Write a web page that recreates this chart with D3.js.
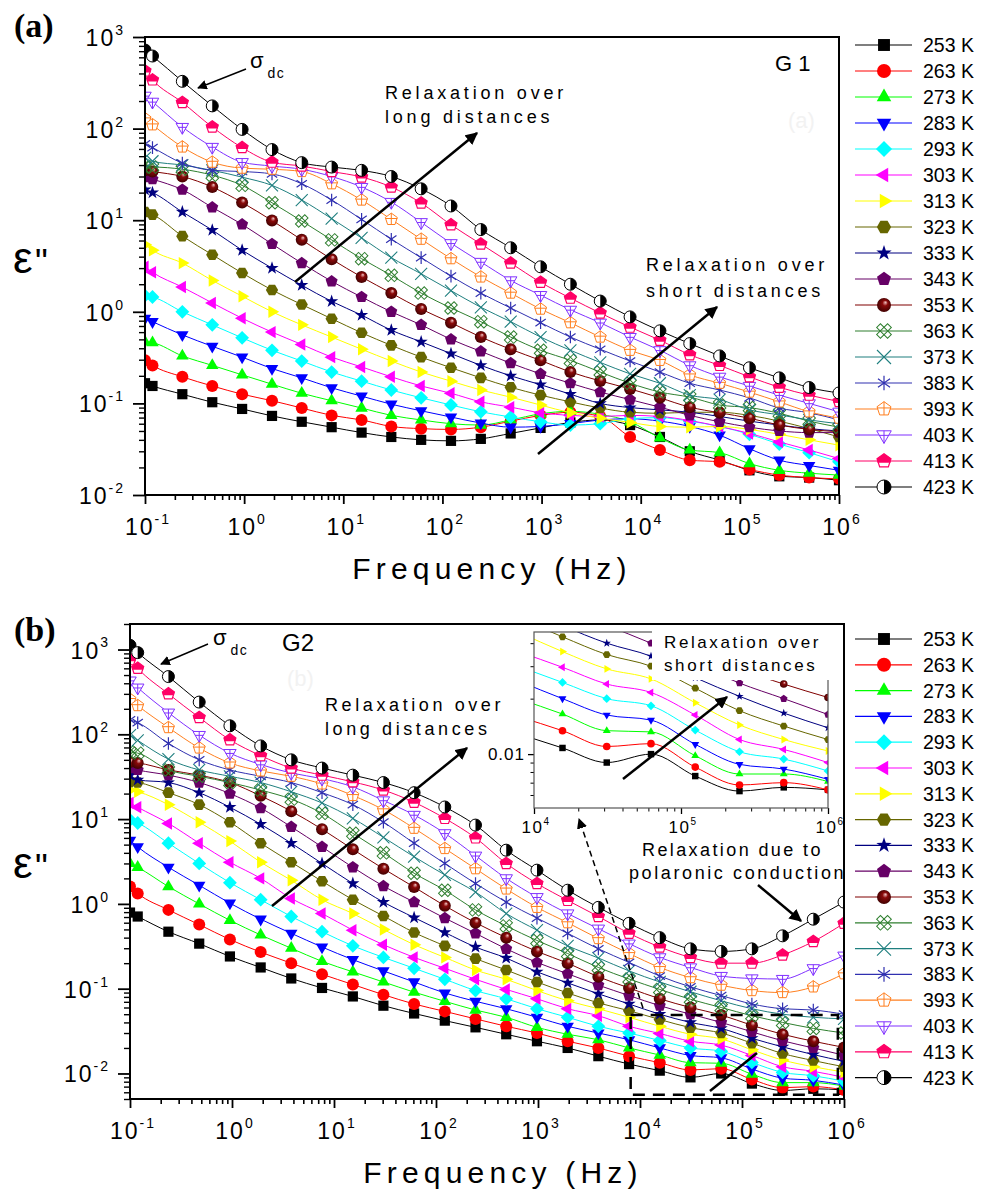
<!DOCTYPE html>
<html><head><meta charset="utf-8">
<script src="https://cdn.jsdelivr.net/npm/d3@7"></script>
<style>
body{margin:0;background:#fff;}
svg text{font-family:"Liberation Sans",Arial,sans-serif;fill:#000;}
</style></head><body>
<svg id="fig" width="989" height="1192"></svg>
<script>
// Measurement frequencies (Hz)
const freqs = [0.1, 0.119, 0.238, 0.477, 0.954, 1.91, 3.81, 7.63, 15.3, 30.5, 61.0, 122, 244, 488, 977, 1953, 3906, 7813, 15625, 31250, 62500, 125000, 250000, 500000, 1000000];
const temps = ["253 K","263 K","273 K","283 K","293 K","303 K","313 K","323 K","333 K","343 K","353 K","363 K","373 K","383 K","393 K","403 K","413 K","423 K"];

// G1: dielectric loss ε'' per temperature
const g1_253 = [0.166,0.155,0.126,0.103,0.087,0.073,0.063,0.055,0.048,0.043,0.040,0.039,0.041,0.047,0.054,0.062,0.066,0.058,0.043,0.030,0.024,0.0186,0.016,0.0155,0.0145];
const g1_263 = [0.295,0.26,0.195,0.155,0.126,0.107,0.089,0.074,0.066,0.056,0.053,0.052,0.055,0.064,0.074,0.080,0.072,0.043,0.031,0.024,0.023,0.019,0.0165,0.0155,0.015];
const g1_273 = [0.47,0.46,0.33,0.26,0.205,0.162,0.129,0.107,0.089,0.074,0.066,0.060,0.058,0.066,0.077,0.082,0.076,0.063,0.042,0.031,0.029,0.022,0.0186,0.0173,0.0165];
const g1_283 = [0.85,0.78,0.56,0.42,0.32,0.24,0.19,0.148,0.12,0.098,0.083,0.071,0.061,0.055,0.056,0.060,0.066,0.068,0.064,0.056,0.045,0.032,0.024,0.021,0.0186];
const g1_293 = [1.5,1.45,1.0,0.72,0.52,0.38,0.29,0.22,0.175,0.14,0.115,0.096,0.081,0.071,0.063,0.058,0.060,0.068,0.070,0.064,0.056,0.046,0.036,0.029,0.023];
const g1_303 = [3.1,2.7,1.86,1.25,0.85,0.60,0.44,0.32,0.25,0.195,0.155,0.129,0.104,0.091,0.079,0.074,0.072,0.074,0.072,0.065,0.056,0.047,0.038,0.031,0.025];
const g1_313 = [5.4,4.7,3.4,2.2,1.48,1.0,0.72,0.53,0.39,0.29,0.22,0.175,0.14,0.117,0.096,0.079,0.069,0.062,0.056,0.055,0.056,0.052,0.046,0.040,0.035];
const g1_323 = [12.3,11.5,6.7,4.2,2.65,1.73,1.2,0.84,0.59,0.43,0.32,0.245,0.19,0.15,0.123,0.104,0.089,0.080,0.078,0.080,0.080,0.074,0.064,0.053,0.043];
const g1_333 = [21.5,20,12.3,7.8,4.7,3.0,1.95,1.3,0.92,0.63,0.47,0.35,0.26,0.20,0.16,0.126,0.10,0.090,0.085,0.080,0.072,0.064,0.058,0.053,0.050];
const g1_343 = [29.5,28,21.5,13.8,9.0,5.5,3.4,2.15,1.45,1.0,0.72,0.50,0.37,0.275,0.21,0.166,0.133,0.11,0.091,0.074,0.063,0.055,0.050,0.048,0.048];
const g1_353 = [35,34,30,23,15.6,9.9,6.1,3.75,2.4,1.6,1.07,0.76,0.53,0.39,0.295,0.22,0.176,0.144,0.115,0.091,0.079,0.069,0.058,0.052,0.049];
const g1_363 = [38,38,36,31,24,15.5,9.8,6.1,3.8,2.5,1.6,1.1,0.78,0.53,0.38,0.295,0.22,0.166,0.133,0.117,0.096,0.090,0.078,0.064,0.055];
const g1_373 = [48,44,40,35,29.5,24,16.6,10.4,6.4,3.9,2.6,1.7,1.12,0.78,0.53,0.38,0.28,0.21,0.166,0.123,0.11,0.085,0.075,0.066,0.060];
const g1_383 = [68,62,42,35,34,32,25,16.6,10.2,6.2,3.9,2.45,1.6,1.1,0.76,0.53,0.39,0.29,0.22,0.166,0.14,0.115,0.089,0.079,0.066];
const g1_393 = [128,110,63,43,37,36,34,25,16.6,10.2,6.2,3.8,2.4,1.6,1.07,0.76,0.53,0.38,0.295,0.205,0.166,0.133,0.104,0.081,0.069];
const g1_403 = [228,196,104,63,43,39,36,30,23,15.8,9.5,5.6,3.5,2.2,1.52,1.05,0.76,0.53,0.38,0.26,0.195,0.155,0.123,0.10,0.081];
const g1_413 = [425,340,193,104,62,43,39,34,29.6,23,15.4,8.9,5.5,3.4,2.1,1.41,0.97,0.68,0.49,0.34,0.26,0.195,0.15,0.123,0.105];
const g1_423 = [720,620,328,177,98,59,42.5,38,35,30,22,14.3,7.9,5.0,3.1,2.0,1.31,0.88,0.62,0.45,0.33,0.245,0.19,0.149,0.13];

// G2: dielectric loss ε'' per temperature
const g2_253 = [0.79,0.71,0.47,0.34,0.24,0.178,0.132,0.102,0.081,0.063,0.051,0.042,0.035,0.029,0.024,0.020,0.016,0.0129,0.0108,0.0090,0.0100,0.0076,0.0063,0.0066,0.0064];
const g2_263 = [1.6,1.33,0.85,0.57,0.38,0.27,0.20,0.148,0.112,0.085,0.066,0.054,0.044,0.036,0.030,0.024,0.020,0.016,0.0134,0.0110,0.0114,0.0085,0.0068,0.0070,0.0064];
const g2_273 = [3.0,2.7,1.6,1.0,0.64,0.43,0.30,0.21,0.158,0.12,0.091,0.071,0.056,0.046,0.035,0.029,0.025,0.020,0.0165,0.0134,0.0132,0.0098,0.0078,0.0078,0.0071];
const g2_283 = [5.6,4.7,2.7,1.66,1.02,0.66,0.45,0.31,0.22,0.162,0.12,0.089,0.071,0.058,0.046,0.036,0.030,0.025,0.020,0.0163,0.0153,0.0113,0.0088,0.0083,0.0073];
const g2_293 = [9.8,9.0,5.2,3.0,1.78,1.12,0.71,0.47,0.32,0.234,0.174,0.129,0.095,0.076,0.058,0.046,0.036,0.030,0.0245,0.020,0.0183,0.0135,0.0103,0.0094,0.0081];
const g2_303 = [15.5,13.8,8.9,5.2,3.1,2.0,1.16,0.77,0.49,0.33,0.234,0.174,0.129,0.098,0.076,0.058,0.048,0.036,0.0296,0.024,0.0216,0.0163,0.0120,0.0106,0.0090];
const g2_313 = [22,21,14.8,9.2,5.5,3.1,1.9,1.12,0.77,0.50,0.33,0.234,0.166,0.129,0.095,0.072,0.058,0.046,0.036,0.029,0.0256,0.019,0.0144,0.0120,0.0104];
const g2_323 = [27.5,27,20.5,14.8,9.2,5.2,3.1,1.85,1.12,0.72,0.46,0.32,0.226,0.166,0.12,0.089,0.068,0.055,0.0433,0.0347,0.030,0.0228,0.0172,0.0142,0.0120];
const g2_333 = [33,29,27,20.5,13.8,8.7,5.2,3.0,1.74,1.05,0.69,0.46,0.31,0.23,0.158,0.117,0.087,0.066,0.050,0.040,0.034,0.026,0.0206,0.0167,0.0139];
const g2_343 = [40,38,33,27,20,13.5,8.1,4.7,2.7,1.62,1.05,0.68,0.45,0.295,0.204,0.15,0.11,0.083,0.063,0.050,0.040,0.031,0.0243,0.020,0.0164];
const g2_353 = [47,46,38,33,27,18.8,12.4,7.6,4.4,2.6,1.58,0.95,0.60,0.40,0.275,0.20,0.138,0.102,0.076,0.060,0.049,0.037,0.029,0.024,0.0203];
const g2_363 = [62,60,38,32,27,22,17.2,11.7,6.8,4.0,2.3,1.45,0.85,0.55,0.37,0.26,0.178,0.13,0.098,0.075,0.060,0.048,0.040,0.034,0.030];
const g2_373 = [98,85,51,38,32,27,21,15.5,10.2,6.1,3.6,2.2,1.38,0.77,0.49,0.32,0.23,0.162,0.12,0.092,0.072,0.058,0.050,0.046,0.044];
const g2_383 = [148,137,78,50,38,32,27,20.5,14.8,9.2,5.2,3.0,1.74,1.05,0.68,0.45,0.295,0.204,0.141,0.105,0.083,0.066,0.058,0.056,0.050];
const g2_393 = [258,218,120,69,46,37,32,26,19,12.9,7.8,4.5,2.6,1.5,0.91,0.60,0.39,0.26,0.178,0.135,0.11,0.095,0.090,0.105,0.15];
const g2_403 = [430,355,180,98,60,44,35,30,24,16.6,11.2,6.8,3.7,2.0,1.2,0.77,0.51,0.34,0.234,0.178,0.141,0.132,0.13,0.174,0.245];
const g2_413 = [760,600,300,158,86,56,40,33,27.5,22,15.8,10.2,6.0,3.0,1.74,1.1,0.71,0.45,0.31,0.234,0.20,0.20,0.25,0.36,0.59];
const g2_423 = [1120,920,480,240,126,73,50,40,33,27,20.5,13.9,8.5,4.3,2.5,1.45,0.91,0.59,0.40,0.295,0.275,0.295,0.42,0.66,1.05];

const g1Series = [g1_253,g1_263,g1_273,g1_283,g1_293,g1_303,g1_313,g1_323,g1_333,g1_343,g1_353,g1_363,g1_373,g1_383,g1_393,g1_403,g1_413,g1_423];
const g2Series = [g2_253,g2_263,g2_273,g2_283,g2_293,g2_303,g2_313,g2_323,g2_333,g2_343,g2_353,g2_363,g2_373,g2_383,g2_393,g2_403,g2_413,g2_423];

// Axis tick decades
const xDecades = [0.1,1,10,100,1e3,1e4,1e5,1e6];
const xExps = ["-1","0","1","2","3","4","5","6"];
const yDecades = [0.01,0.1,1,10,100,1000];
const yExps = ["-2","-1","0","1","2","3"];
const insetXDecades = [1e4,1e5,1e6];
const insetXExps = ["4","5","6"];

// symbol + colour for each temperature
const styles = [
  {shape:"square",color:"#000000"},
  {shape:"circle",color:"#ff0000"},
  {shape:"up",color:"#00ff00"},
  {shape:"down",color:"#0000ff"},
  {shape:"diamond",color:"#00ffff"},
  {shape:"left",color:"#ff00ff"},
  {shape:"right",color:"#ffff00"},
  {shape:"hex",color:"#666600"},
  {shape:"star",color:"#000080"},
  {shape:"pent",color:"#660066"},
  {shape:"sphere",color:"#800000"},
  {shape:"xx",color:"#2f7f2f"},
  {shape:"x",color:"#1f7f7f"},
  {shape:"ast",color:"#3030b0"},
  {shape:"pentcross",color:"#ff7f1f"},
  {shape:"tricross",color:"#8030ff"},
  {shape:"penthalf",color:"#ff0066"},
  {shape:"halfcirc",color:"#000000"}
];

const svg = d3.select("#fig");
const defs = svg.append("defs");
const grad = defs.append("radialGradient").attr("id","sphereGrad")
  .attr("cx","50%").attr("cy","50%").attr("r","55%").attr("fx","62%").attr("fy","30%");
grad.append("stop").attr("offset","0%").attr("stop-color","#f4c8c8");
grad.append("stop").attr("offset","35%").attr("stop-color","#8a0a0a");
grad.append("stop").attr("offset","100%").attr("stop-color","#3a0000");

function addHead(id, w){
  defs.append("marker").attr("id",id).attr("viewBox","0 0 10 10").attr("refX",9).attr("refY",5)
    .attr("markerWidth",w).attr("markerHeight",w).attr("orient","auto")
    .append("path").attr("d","M0,0L10,5L0,10Z").attr("fill","#000");
}
addHead("headBig",5);
addHead("headSmall",7);

const P = pts => "M" + pts.map(p => p[0].toFixed(2)+","+p[1].toFixed(2)).join("L") + "Z";
const reg = (n, rad, a0) => d3.range(n).map(i => [rad*Math.cos(a0+i*2*Math.PI/n), rad*Math.sin(a0+i*2*Math.PI/n)]);

function marker(g, st, r){
  const c = st.color;
  switch(st.shape){
    case "square": g.append("rect").attr("x",-r*0.85).attr("y",-r*0.85).attr("width",r*1.7).attr("height",r*1.7).attr("fill",c); break;
    case "circle": g.append("circle").attr("r",r).attr("fill",c); break;
    case "up": g.append("path").attr("d",P(reg(3,r*1.2,-Math.PI/2))).attr("fill",c); break;
    case "down": g.append("path").attr("d",P(reg(3,r*1.2,Math.PI/2))).attr("fill",c); break;
    case "left": g.append("path").attr("d",P(reg(3,r*1.2,Math.PI))).attr("fill",c); break;
    case "right": g.append("path").attr("d",P(reg(3,r*1.2,0))).attr("fill",c); break;
    case "diamond": g.append("path").attr("d",P([[0,-r*1.15],[r*1.15,0],[0,r*1.15],[-r*1.15,0]])).attr("fill",c); break;
    case "hex": g.append("path").attr("d",P(reg(6,r*1.02,0))).attr("fill",c); break;
    case "star": {
      const pts = d3.range(10).map(i => { const rr = i%2 ? r*0.45 : r*1.15; const a = -Math.PI/2 + i*Math.PI/5; return [rr*Math.cos(a), rr*Math.sin(a)]; });
      g.append("path").attr("d",P(pts)).attr("fill",c); break;
    }
    case "pent": g.append("path").attr("d",P(reg(5,r*1.05,-Math.PI/2))).attr("fill",c); break;
    case "sphere": g.append("circle").attr("r",r).attr("fill","url(#sphereGrad)"); break;
    case "xx": {
      [45,-45].forEach(a => g.append("rect").attr("x",-r*1.1).attr("y",-r*0.38).attr("width",r*2.2).attr("height",r*0.76)
        .attr("transform",`rotate(${a})`).attr("fill","none").attr("stroke",c).attr("stroke-width",1));
      break;
    }
    case "x": {
      g.append("path").attr("d",`M${-r},${-r}L${r},${r}M${-r},${r}L${r},${-r}`).attr("stroke",c).attr("stroke-width",1.1).attr("fill","none"); break;
    }
    case "ast": {
      const d = [90,35,145].map(a => { const dx = r*1.05*Math.cos(a*Math.PI/180), dy = r*1.05*Math.sin(a*Math.PI/180); return `M${-dx},${-dy}L${dx},${dy}`; }).join("");
      g.append("path").attr("d",d).attr("stroke",c).attr("stroke-width",1.2).attr("fill","none"); break;
    }
    case "pentcross": {
      const pts = reg(5,r*1.05,-Math.PI/2);
      g.append("path").attr("d",P(pts)).attr("fill","#fff").attr("stroke",c).attr("stroke-width",1);
      g.append("path").attr("d",`M0,${-r*1.05}L0,${r*0.85}M${-r*1.0},${-r*0.15}L${r*1.0},${-r*0.15}`).attr("stroke",c).attr("stroke-width",1);
      break;
    }
    case "tricross": {
      const pts = reg(3,r*1.2,Math.PI/2);
      g.append("path").attr("d",P(pts)).attr("fill","#fff").attr("stroke",c).attr("stroke-width",1);
      g.append("path").attr("d",`M0,${-r*0.6}L0,${r*1.2}M${-r*0.7},${r*0.05}L${r*0.7},${r*0.05}`).attr("stroke",c).attr("stroke-width",1);
      break;
    }
    case "penthalf": {
      const pts = reg(5,r*1.05,-Math.PI/2);
      g.append("path").attr("d",P(pts)).attr("fill","#fff").attr("stroke",c).attr("stroke-width",1.2);
      const cut = r*0.25;
      g.append("path").attr("d",P([[pts[4][0],pts[4][1]],[pts[0][0],pts[0][1]],[pts[1][0],pts[1][1]],[r*0.92,cut],[-r*0.92,cut]])).attr("fill",c);
      break;
    }
    case "halfcirc": {
      g.append("circle").attr("r",r).attr("fill","#fff").attr("stroke",c).attr("stroke-width",1);
      g.append("path").attr("d",`M0,${-r}A${r},${r} 0 0 1 0,${r}Z`).attr("fill",c);
      break;
    }
  }
}

function powLabel(x, y, exp, anchor, fs, sfs, ls){
  const t = svg.append("text").attr("x",x).attr("y",y).attr("text-anchor",anchor)
    .attr("font-size",fs).attr("letter-spacing",ls);
  t.append("tspan").text("10");
  t.append("tspan").attr("dy",-fs*0.48).attr("font-size",sfs).text(exp);
  return t;
}

function minorTicks(lo, hi){
  const out = [];
  for (let e = Math.floor(Math.log10(lo)) - 1; e <= Math.ceil(Math.log10(hi)); e++)
    for (let m = 2; m <= 9; m++){ const v = m*Math.pow(10,e); if (v >= lo*0.999 && v <= hi*1.001) out.push(v); }
  return out;
}

function styleAxis(sel, w){
  sel.select(".domain").remove();
  sel.selectAll("line").attr("stroke","#000").attr("stroke-width",w);
}

function drawPanel(cfg, seriesVals){
  const x = d3.scaleLog().domain([0.1,1e6]).range([cfg.x0,cfg.x1]);
  const y = d3.scaleLog().domain(cfg.yDom).range([cfg.yBot,cfg.yTop]);
  defs.append("clipPath").attr("id","clip"+cfg.id).append("rect")
    .attr("x",cfg.x0).attr("y",cfg.yTop).attr("width",cfg.x1-cfg.x0).attr("height",cfg.yBot-cfg.yTop);
  const plot = svg.append("g").attr("clip-path",`url(#clip${cfg.id})`);
  const line = d3.line().x(d => x(d.f)).y(d => y(d.v)).curve(d3.curveMonotoneX);
  seriesVals.forEach((vals,k) => {
    const st = styles[k];
    const pts = freqs.map((f,i) => ({f, v: vals[i]}));
    const sg = plot.append("g");
    sg.append("path").attr("d",line(pts)).attr("fill","none").attr("stroke",st.color).attr("stroke-width",1);
    pts.forEach(p => marker(sg.append("g").attr("transform",`translate(${x(p.f)},${y(p.v)})`), st, 6));
  });

  // axes
  const ax = svg.append("g");
  ax.append("g").attr("transform",`translate(0,${cfg.yBot})`)
    .call(d3.axisBottom(x).tickValues(xDecades).tickSizeInner(9).tickSizeOuter(0).tickFormat(() => ""))
    .call(s => styleAxis(s,1.8));
  ax.append("g").attr("transform",`translate(0,${cfg.yBot})`)
    .call(d3.axisBottom(x).tickValues(minorTicks(0.1,1e6)).tickSizeInner(5).tickSizeOuter(0).tickFormat(() => ""))
    .call(s => styleAxis(s,1.6));
  ax.append("g").attr("transform",`translate(${cfg.x0},0)`)
    .call(d3.axisLeft(y).tickValues(yDecades).tickSizeInner(12).tickSizeOuter(0).tickFormat(() => ""))
    .call(s => styleAxis(s,1.8));
  ax.append("g").attr("transform",`translate(${cfg.x0},0)`)
    .call(d3.axisLeft(y).tickValues(minorTicks(cfg.yDom[0],cfg.yDom[1])).tickSizeInner(6).tickSizeOuter(0).tickFormat(() => ""))
    .call(s => styleAxis(s,1.4));
  svg.append("rect").attr("x",cfg.x0).attr("y",cfg.yTop).attr("width",cfg.x1-cfg.x0).attr("height",cfg.yBot-cfg.yTop)
    .attr("fill","none").attr("stroke","#000").attr("stroke-width",2);

  xDecades.forEach((v,i) => powLabel(x(v)+3, cfg.yBot+40, xExps[i], "middle", 23, 14, 2));
  yDecades.forEach((v,i) => powLabel(cfg.x0-20, y(v)+9, yExps[i], "end", 23, 14, 2));

  svg.append("text").attr("x",cfg.titleX).attr("y",cfg.yBot+84).attr("text-anchor","middle")
    .attr("font-size",30).attr("letter-spacing",5.2).text("Frequency (Hz)");
  svg.append("text").attr("x",13).attr("y",cfg.epsY).attr("font-size",44).text("ε");
  svg.append("text").attr("x",35).attr("y",cfg.epsY+2).attr("font-size",36).text("\"");
  svg.append("text").attr("x",14).attr("y",cfg.labelY).attr("font-size",34).attr("font-weight","bold")
    .style("font-family","'Liberation Serif','Times New Roman',serif").text(cfg.label);

  // legend
  temps.forEach((t,k) => {
    const cy = cfg.ly0 + k*cfg.ldy;
    svg.append("line").attr("x1",855).attr("x2",912).attr("y1",cy).attr("y2",cy).attr("stroke",styles[k].color).attr("stroke-width",1.2);
    marker(svg.append("g").attr("transform",`translate(884,${cy})`), styles[k], 7);
    svg.append("text").attr("x",923).attr("y",cy+7).attr("font-size",19.5).text(t);
  });
  return {x, y};
}

function sigma(x, y){
  const t = svg.append("text").attr("x",x).attr("y",y).attr("font-size",22);
  t.append("tspan").text("σ");
  t.append("tspan").attr("dx",4).attr("dy",10).attr("font-size",14).attr("letter-spacing",1.5).text("dc");
}
function arrow(x1,y1,x2,y2,w,head,dash){
  const l = svg.append("line").attr("x1",x1).attr("y1",y1).attr("x2",x2).attr("y2",y2)
    .attr("stroke","#000").attr("stroke-width",w);
  if (head) l.attr("marker-end",`url(#${head})`);
  if (dash) l.attr("stroke-dasharray",dash);
}
function textLine(x, y, s, fs, ls){
  svg.append("text").attr("x",x).attr("y",y).attr("font-size",fs).attr("letter-spacing",ls).text(s);
}

// ---- panel (a): G1 ----
drawPanel({id:"A", x0:145, x1:839, yTop:37, yBot:495, yDom:[0.01,1000], titleX:492, epsY:273, labelY:37, label:"(a)", ly0:45, ldy:26}, g1Series);
svg.append("text").attr("x",788).attr("y",128).attr("font-size",22).style("fill","#f2f2f2").text("(a)");
svg.append("text").attr("x",775).attr("y",71).attr("font-size",22).text("G 1");
sigma(250, 68);
arrow(246,69,198,88,1.4,"headSmall");
textLine(385, 99, "Relaxation over", 18, 3.8);
textLine(385, 123, "long distances", 18, 3.8);
arrow(295,282,477,133,2.5,"headBig");
textLine(646, 271, "Relaxation over", 18, 3.8);
textLine(646, 297, "short distances", 18, 3.8);
arrow(538,454,717,307,2.5,"headBig");

// ---- panel (b): G2 ----
drawPanel({id:"B", x0:130, x1:844, yTop:624, yBot:1099, yDom:[0.005,2000], titleX:503, epsY:878, labelY:641, label:"(b)", ly0:639, ldy:25.8}, g2Series);
svg.append("text").attr("x",287).attr("y",686).attr("font-size",22).style("fill","#f2f2f2").text("(b)");
svg.append("text").attr("x",282).attr("y",651).attr("font-size",24).text("G2");
sigma(213, 645);
arrow(208,644,161,664,1.4,"headSmall");
textLine(325, 711, "Relaxation over", 18, 3.6);
textLine(325, 735, "long distances", 18, 3.6);
arrow(272,906,467,748,2.5,"headBig");

// zoom window in panel (b)
const xB = d3.scaleLog().domain([0.1,1e6]).range([130,844]);
const yB = d3.scaleLog().domain([0.005,2000]).range([1099,624]);
svg.append("rect").attr("x",xB(8100)).attr("y",yB(0.049)).attr("width",xB(870000)-xB(8100)).attr("height",yB(0.0056)-yB(0.049))
  .attr("fill","none").attr("stroke","#000").attr("stroke-width",2.5).attr("stroke-dasharray","12,8");
arrow(710,1091,757,1053,2.5,null);
arrow(643,1008,579,819,1.5,"headSmall","6,4");

// inset: enlarged 1e4 – 1e6 Hz region
const xi = d3.scaleLog().domain([1e4,1e6]).range([534,828]);
const yi = d3.scaleLog().domain([0.0051,0.046]).range([808,632]);
defs.append("clipPath").attr("id","clipI").append("rect").attr("x",534).attr("y",632).attr("width",294).attr("height",176);
svg.append("rect").attr("x",534).attr("y",632).attr("width",294).attr("height",176).attr("fill","#fff");
const inset = svg.append("g").attr("clip-path","url(#clipI)");
const lineI = d3.line().x(d => xi(d.f)).y(d => yi(d.v)).curve(d3.curveMonotoneX);
g2Series.forEach((vals,k) => {
  const st = styles[k];
  const pts = freqs.map((f,i) => ({f, v: vals[i]})).filter(p => p.f >= 7000);
  const sg = inset.append("g");
  sg.append("path").attr("d",lineI(pts)).attr("fill","none").attr("stroke",st.color).attr("stroke-width",1);
  pts.filter(p => p.f >= 1e4).forEach(p => marker(sg.append("g").attr("transform",`translate(${xi(p.f)},${yi(p.v)})`), st, 3.8));
});
const axI = svg.append("g");
axI.append("g").attr("transform","translate(0,808)")
  .call(d3.axisBottom(xi).tickValues(insetXDecades).tickSizeInner(6).tickSizeOuter(0).tickFormat(() => ""))
  .call(s => styleAxis(s,1.3));
axI.append("g").attr("transform","translate(0,808)")
  .call(d3.axisBottom(xi).tickValues(minorTicks(1e4,1e6)).tickSizeInner(3.5).tickSizeOuter(0).tickFormat(() => ""))
  .call(s => styleAxis(s,1));
axI.append("g").attr("transform","translate(534,0)")
  .call(d3.axisLeft(yi).tickValues([0.01]).tickSizeInner(6).tickSizeOuter(0).tickFormat(() => ""))
  .call(s => styleAxis(s,1.3));
axI.append("g").attr("transform","translate(534,0)")
  .call(d3.axisLeft(yi).tickValues([0.006,0.007,0.008,0.009,0.02,0.03,0.04]).tickSizeInner(3.5).tickSizeOuter(0).tickFormat(() => ""))
  .call(s => styleAxis(s,1));
svg.append("rect").attr("x",534).attr("y",632).attr("width",294).attr("height",176)
  .attr("fill","none").attr("stroke","#555").attr("stroke-width",1.2);
svg.append("rect").attr("x",652).attr("y",630).attr("width",178).attr("height",50).attr("fill","#fff");
insetXDecades.forEach((v,i) => powLabel(xi(v)+2, 833, insetXExps[i], "middle", 17, 10, 1.5));
svg.append("text").attr("x",525).attr("y",760).attr("text-anchor","end").attr("font-size",17).attr("letter-spacing",1).text("0.01");
textLine(664, 648, "Relaxation over", 17, 2.6);
textLine(664, 671, "short distances", 17, 2.6);
arrow(623,779,727,697,2.5,"headBig");

textLine(642, 856, "Relaxation due to", 18, 2.4);
textLine(629, 879, "polaronic conduction", 18, 2.6);
arrow(758,885,801,921,2.5,"headBig");
</script>
</body></html>
